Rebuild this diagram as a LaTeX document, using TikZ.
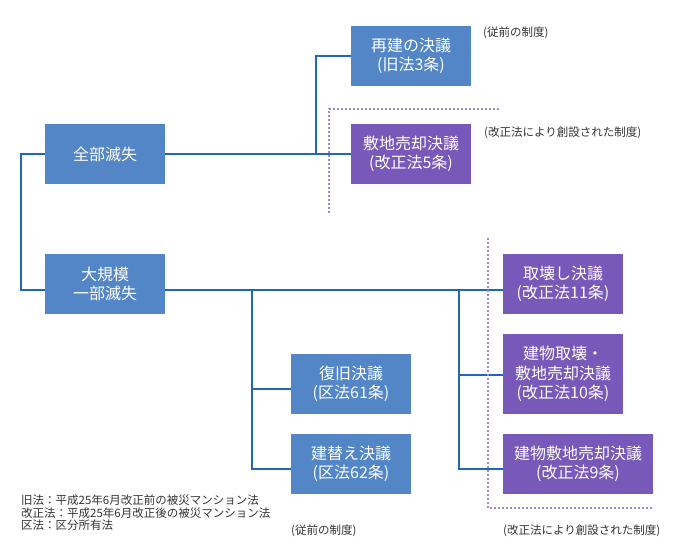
\documentclass[tikz,border=0pt]{standalone}
\usepackage{fontspec}
\setmainfont{Noto Sans CJK JP}
\definecolor{boxblue}{HTML}{5286C7}
\definecolor{boxpurple}{HTML}{7858B8}
\definecolor{linkblue}{HTML}{2166BE}
\definecolor{dotlav}{HTML}{9A88DA}
\definecolor{notegray}{HTML}{333333}
\begin{document}
\begin{tikzpicture}[x=1pt,y=-1pt,
  bbox/.style={rectangle, fill=boxblue, text=white, minimum height=60pt, inner sep=0pt, align=center, font=\fontsize{16}{19.5}\selectfont},
  pbox/.style={bbox, fill=boxpurple},
  link/.style={draw=linkblue, line width=2pt},
  dotline/.style={draw=dotlav, line width=1.9pt, dash pattern=on 1.7pt off 2.3pt},
  note/.style={text=notegray, inner sep=0pt, anchor=west, font=\fontsize{11.5}{12.4}\selectfont}]
\useasboundingbox (0,0) rectangle (700,550);
% nodes
\node[bbox, minimum width=120pt] (zenbu) at (105,154) {全部滅失};
\node[bbox, minimum width=120pt] (daikibo) at (105,284) {大規模\\一部滅失};
\node[bbox, minimum width=120pt] (saiken) at (411,56) {再建の決議\\(旧法3条)};
\node[pbox, minimum width=120pt] (shikichi) at (411,154) {敷地売却決議\\(改正法5条)};
\node[bbox, minimum width=120pt] (fukkyu) at (351,384) {復旧決議\\(区法61条)};
\node[bbox, minimum width=120pt] (tatekae) at (351,464) {建替え決議\\(区法62条)};
\node[pbox, minimum width=120pt] (torikowashi) at (563,284) {取壊し決議\\(改正法11条)};
\node[pbox, minimum width=120pt, minimum height=80pt] (kaitai) at (563,374) {建物取壊・\\敷地売却決議\\(改正法10条)};
\node[pbox, minimum width=150pt] (tatemono) at (578,464) {建物敷地売却決議\\(改正法9条)};
% coordinates
\coordinate (jL1) at (21,154);
\coordinate (jL2) at (21,290);
\coordinate (jT) at (316,154);
\coordinate (b1) at (252,290);
\coordinate (b2) at (252,389);
\coordinate (b3) at (252,469);
\coordinate (c1) at (459,290);
\coordinate (c2) at (459,375);
\coordinate (c3) at (459,469);
\coordinate (d1) at (329,109);
\coordinate (d2) at (500,109);
\coordinate (d3) at (329,213);
\coordinate (e1) at (488,238);
\coordinate (e2) at (488,508);
\coordinate (e3) at (654,508);
% connectors
\draw[link] (zenbu.west) -- (jL1) -- (jL2) -- (daikibo.west |- jL2);
\draw[link] (zenbu.east) -- (shikichi.west);
\draw[link] (jT) -- (jT |- saiken.west) -- (saiken.west);
\draw[link] (daikibo.east |- jL2) -- (torikowashi.west |- jL2);
\draw[link] (b1) -- (b3) -- (tatekae.west |- b3);
\draw[link] (b2) -- (fukkyu.west |- b2);
\draw[link] (c1) -- (c3) -- (tatemono.west |- c3);
\draw[link] (c2) -- (kaitai.west |- c2);
% dotted boundaries
\draw[dotline] (d3) -- (d1) -- (d2);
\draw[dotline] (e1) -- (e2) -- (e3);
% annotations
\node[note] (a1) at (483,33) {(従前の制度)};
\node[note] (a2) at (484,133) {(改正法により創設された制度)};
\node[note] (a3) at (291,531) {(従前の制度)};
\node[note] (a4) at (503,531) {(改正法により創設された制度)};
\node[note, align=left] (notes) at (21,513) {旧法：平成25年6月改正前の被災マンション法\\改正法：平成25年6月改正後の被災マンション法\\区法：区分所有法};
\end{tikzpicture}
\end{document}
